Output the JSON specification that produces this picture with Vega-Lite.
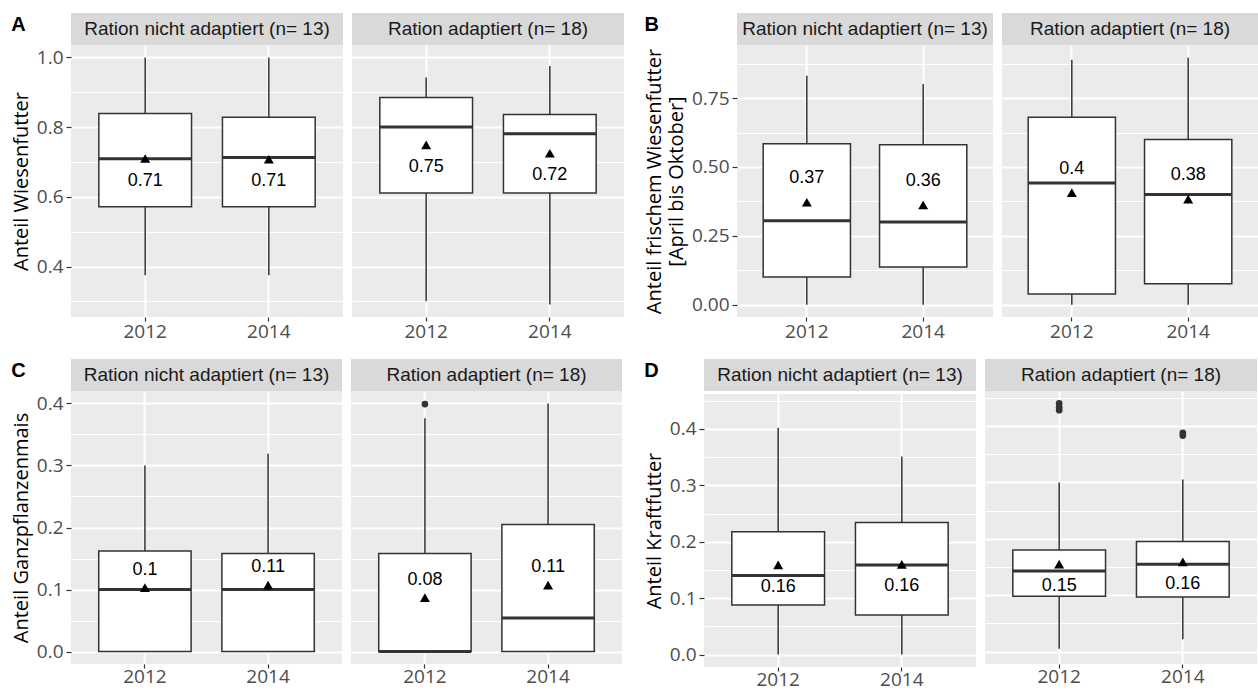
{
  "$schema": "https://vega.github.io/schema/vega-lite/v6.json",
  "background": "#FFFFFF",
  "padding": {"left": 11, "top": 13, "right": 0, "bottom": 4},
  "config": {
    "view": {"stroke": null},
    "axis": {"domain": false, "gridColor": "#FFFFFF", "tickColor": "#333333", "tickSize": 5, "tickWidth": 1.2, "labelColor": "#4D4D4D", "labelFont": "Open Sans", "labelFontSize": 19, "titleFont": "Open Sans", "titleFontSize": 20, "titleColor": "#000000", "titleFontWeight": "normal", "labelPadding": 3, "labelOverlap": false},
    "axisY": {"titlePadding": 5, "tickCount": 30},
    "axisX": {"grid": true, "gridWidth": 2, "labelAngle": 0, "labelPadding": 1, "tickSize": 4},
    "title": {"font": "Liberation Sans", "fontSize": 20, "fontWeight": "bold", "color": "#000000", "anchor": "start", "frame": "bounds", "baseline": "alphabetic", "offset": -22}
  },
  "datasets": {
    "box": [
      {"panel": "A", "grp": "n", "year": "2012", "lo": 0.375, "q1": 0.572, "med": 0.709, "q3": 0.839, "hi": 1.0, "mean": 0.71, "label": "0.71"},
      {"panel": "A", "grp": "n", "year": "2014", "lo": 0.375, "q1": 0.572, "med": 0.713, "q3": 0.828, "hi": 1.0, "mean": 0.708, "label": "0.71"},
      {"panel": "A", "grp": "a", "year": "2012", "lo": 0.301, "q1": 0.611, "med": 0.8, "q3": 0.885, "hi": 0.942, "mean": 0.749, "label": "0.75"},
      {"panel": "A", "grp": "a", "year": "2014", "lo": 0.291, "q1": 0.611, "med": 0.781, "q3": 0.836, "hi": 0.975, "mean": 0.725, "label": "0.72"},
      {"panel": "B", "grp": "n", "year": "2012", "lo": 0.0, "q1": 0.1, "med": 0.305, "q3": 0.584, "hi": 0.831, "mean": 0.372, "label": "0.37"},
      {"panel": "B", "grp": "n", "year": "2014", "lo": 0.0, "q1": 0.137, "med": 0.3, "q3": 0.581, "hi": 0.801, "mean": 0.362, "label": "0.36"},
      {"panel": "B", "grp": "a", "year": "2012", "lo": 0.0, "q1": 0.039, "med": 0.442, "q3": 0.681, "hi": 0.889, "mean": 0.407, "label": "0.4"},
      {"panel": "B", "grp": "a", "year": "2014", "lo": 0.0, "q1": 0.076, "med": 0.4, "q3": 0.6, "hi": 0.897, "mean": 0.383, "label": "0.38"},
      {"panel": "C", "grp": "n", "year": "2012", "lo": 0.0, "q1": 0.0, "med": 0.1, "q3": 0.162, "hi": 0.3, "mean": 0.103, "label": "0.1"},
      {"panel": "C", "grp": "n", "year": "2014", "lo": 0.0, "q1": 0.0, "med": 0.1, "q3": 0.158, "hi": 0.319, "mean": 0.107, "label": "0.11"},
      {"panel": "C", "grp": "a", "year": "2012", "lo": 0.0, "q1": 0.0, "med": 0.0, "q3": 0.158, "hi": 0.376, "mean": 0.087, "label": "0.08"},
      {"panel": "C", "grp": "a", "year": "2014", "lo": 0.0, "q1": 0.0, "med": 0.054, "q3": 0.205, "hi": 0.4, "mean": 0.107, "label": "0.11"},
      {"panel": "D", "grp": "n", "year": "2012", "lo": 0.0, "q1": 0.088, "med": 0.14, "q3": 0.218, "hi": 0.402, "mean": 0.159, "label": "0.16"},
      {"panel": "D", "grp": "n", "year": "2014", "lo": 0.0, "q1": 0.07, "med": 0.159, "q3": 0.234, "hi": 0.351, "mean": 0.16, "label": "0.16"},
      {"panel": "D", "grp": "a", "year": "2012", "lo": 0.005, "q1": 0.098, "med": 0.143, "q3": 0.18, "hi": 0.3, "mean": 0.155, "label": "0.15"},
      {"panel": "D", "grp": "a", "year": "2014", "lo": 0.022, "q1": 0.097, "med": 0.155, "q3": 0.195, "hi": 0.305, "mean": 0.159, "label": "0.16"}
    ],
    "out": [
      {"panel": "C", "grp": "a", "year": "2012", "v": 0.399},
      {"panel": "D", "grp": "a", "year": "2012", "v": 0.428},
      {"panel": "D", "grp": "a", "year": "2012", "v": 0.433},
      {"panel": "D", "grp": "a", "year": "2012", "v": 0.44},
      {"panel": "D", "grp": "a", "year": "2014", "v": 0.383},
      {"panel": "D", "grp": "a", "year": "2014", "v": 0.388}
    ]
  },
  "spacing": 18,
  "vconcat": [
    {
      "spacing": 20,
      "hconcat": [
        {
          "title": {"text": "A"},
          "spacing": 9,
          "hconcat": [
            {"spacing": 0, "vconcat": [
              {"width": 272, "height": 32, "view": {"fill": "#D9D9D9", "stroke": null}, "data": {"values": [{}]}, "mark": {"type": "text", "text": "Ration nicht adaptiert (n= 13)", "font": "Liberation Sans", "fontSize": 19, "color": "#1A1A1A"}},
              {"width": 272, "height": 272, "view": {"fill": "#EBEBEB", "stroke": null},
               "data": {"name": "box"}, "transform": [{"filter": "datum.panel == 'A' && datum.grp == 'n'"}],
               "encoding": {"x": {"field": "year", "type": "nominal", "title": null, "scale": {"paddingInner": 0.25, "paddingOuter": 0.225}}},
               "layer": [
                 {"mark": {"type": "rule", "color": "#333333", "strokeWidth": 1.5}, "encoding": {"y": {"field": "lo", "type": "quantitative", "scale": {"domain": [0.2555, 1.0355], "nice": false, "zero": false}, "axis": {"title": "Anteil Wiesenfutter", "values": [0.3, 0.4, 0.5, 0.6, 0.7, 0.8, 0.9, 1.0], "format": ".1f", "labelExpr": "abs(datum.value*5-round(datum.value*5))<1e-6 ? datum.label : ''", "tickOpacity": {"condition": {"test": "abs(datum.value*5-round(datum.value*5))<1e-6", "value": 1}, "value": 0}, "gridWidth": {"condition": {"test": "abs(datum.value*5-round(datum.value*5))<1e-6", "value": 2}, "value": 1}}}, "y2": {"field": "hi"}}},
                 {"mark": {"type": "bar", "fill": "#FFFFFF", "stroke": "#333333", "strokeWidth": 1.5}, "encoding": {"y": {"field": "q1", "type": "quantitative"}, "y2": {"field": "q3"}}},
                 {"mark": {"type": "bar", "fill": null, "stroke": "#333333", "strokeWidth": 3}, "encoding": {"y": {"field": "med", "type": "quantitative"}, "y2": {"field": "med"}}},
                 {"mark": {"type": "point", "shape": "triangle-up", "filled": true, "color": "#000000", "size": 100, "opacity": 1}, "encoding": {"y": {"field": "mean", "type": "quantitative"}}},
                 {"mark": {"type": "text", "dy": 22, "font": "Liberation Sans", "fontSize": 18, "color": "#000000"}, "encoding": {"y": {"field": "mean", "type": "quantitative"}, "text": {"field": "label"}}}
               ]}
            ]},
            {"spacing": 0, "vconcat": [
              {"width": 272, "height": 32, "view": {"fill": "#D9D9D9", "stroke": null}, "data": {"values": [{}]}, "mark": {"type": "text", "text": "Ration adaptiert (n= 18)", "font": "Liberation Sans", "fontSize": 19, "color": "#1A1A1A"}},
              {"width": 272, "height": 272, "view": {"fill": "#EBEBEB", "stroke": null},
               "data": {"name": "box"}, "transform": [{"filter": "datum.panel == 'A' && datum.grp == 'a'"}],
               "encoding": {"x": {"field": "year", "type": "nominal", "title": null, "scale": {"paddingInner": 0.25, "paddingOuter": 0.225}}},
               "layer": [
                 {"mark": {"type": "rule", "color": "#333333", "strokeWidth": 1.5}, "encoding": {"y": {"field": "lo", "type": "quantitative", "scale": {"domain": [0.2555, 1.0355], "nice": false, "zero": false}, "axis": {"title": null, "labels": false, "ticks": false, "values": [0.3, 0.4, 0.5, 0.6, 0.7, 0.8, 0.9, 1.0], "gridWidth": {"condition": {"test": "abs(datum.value*5-round(datum.value*5))<1e-6", "value": 2}, "value": 1}}}, "y2": {"field": "hi"}}},
                 {"mark": {"type": "bar", "fill": "#FFFFFF", "stroke": "#333333", "strokeWidth": 1.5}, "encoding": {"y": {"field": "q1", "type": "quantitative"}, "y2": {"field": "q3"}}},
                 {"mark": {"type": "bar", "fill": null, "stroke": "#333333", "strokeWidth": 3}, "encoding": {"y": {"field": "med", "type": "quantitative"}, "y2": {"field": "med"}}},
                 {"mark": {"type": "point", "shape": "triangle-up", "filled": true, "color": "#000000", "size": 100, "opacity": 1}, "encoding": {"y": {"field": "mean", "type": "quantitative"}}},
                 {"mark": {"type": "text", "dy": 22, "font": "Liberation Sans", "fontSize": 18, "color": "#000000"}, "encoding": {"y": {"field": "mean", "type": "quantitative"}, "text": {"field": "label"}}}
               ]}
            ]}
          ]
        },
        {
          "title": {"text": "B"},
          "spacing": 9,
          "hconcat": [
            {"spacing": 0, "vconcat": [
              {"width": 256, "height": 32, "view": {"fill": "#D9D9D9", "stroke": null}, "data": {"values": [{}]}, "mark": {"type": "text", "text": "Ration nicht adaptiert (n= 13)", "font": "Liberation Sans", "fontSize": 19, "color": "#1A1A1A"}},
              {"width": 256, "height": 272, "view": {"fill": "#EBEBEB", "stroke": null},
               "data": {"name": "box"}, "transform": [{"filter": "datum.panel == 'B' && datum.grp == 'n'"}],
               "encoding": {"x": {"field": "year", "type": "nominal", "title": null, "scale": {"paddingInner": 0.25, "paddingOuter": 0.225}}},
               "layer": [
                 {"mark": {"type": "rule", "color": "#333333", "strokeWidth": 1.5}, "encoding": {"y": {"field": "lo", "type": "quantitative", "scale": {"domain": [-0.0449, 0.943], "nice": false, "zero": false}, "axis": {"title": ["Anteil frischem Wiesenfutter", "[April bis Oktober]"], "values": [0, 0.125, 0.25, 0.375, 0.5, 0.625, 0.75, 0.875], "format": ".2f", "labelExpr": "abs(datum.value*4-round(datum.value*4))<1e-6 ? datum.label : ''", "tickOpacity": {"condition": {"test": "abs(datum.value*4-round(datum.value*4))<1e-6", "value": 1}, "value": 0}, "gridWidth": {"condition": {"test": "abs(datum.value*4-round(datum.value*4))<1e-6", "value": 2}, "value": 1}}}, "y2": {"field": "hi"}}},
                 {"mark": {"type": "bar", "fill": "#FFFFFF", "stroke": "#333333", "strokeWidth": 1.5}, "encoding": {"y": {"field": "q1", "type": "quantitative"}, "y2": {"field": "q3"}}},
                 {"mark": {"type": "bar", "fill": null, "stroke": "#333333", "strokeWidth": 3}, "encoding": {"y": {"field": "med", "type": "quantitative"}, "y2": {"field": "med"}}},
                 {"mark": {"type": "point", "shape": "triangle-up", "filled": true, "color": "#000000", "size": 100, "opacity": 1}, "encoding": {"y": {"field": "mean", "type": "quantitative"}}},
                 {"mark": {"type": "text", "dy": -24, "font": "Liberation Sans", "fontSize": 18, "color": "#000000"}, "encoding": {"y": {"field": "mean", "type": "quantitative"}, "text": {"field": "label"}}}
               ]}
            ]},
            {"spacing": 0, "vconcat": [
              {"width": 256, "height": 32, "view": {"fill": "#D9D9D9", "stroke": null}, "data": {"values": [{}]}, "mark": {"type": "text", "text": "Ration adaptiert (n= 18)", "font": "Liberation Sans", "fontSize": 19, "color": "#1A1A1A"}},
              {"width": 256, "height": 272, "view": {"fill": "#EBEBEB", "stroke": null},
               "data": {"name": "box"}, "transform": [{"filter": "datum.panel == 'B' && datum.grp == 'a'"}],
               "encoding": {"x": {"field": "year", "type": "nominal", "title": null, "scale": {"paddingInner": 0.25, "paddingOuter": 0.225}}},
               "layer": [
                 {"mark": {"type": "rule", "color": "#333333", "strokeWidth": 1.5}, "encoding": {"y": {"field": "lo", "type": "quantitative", "scale": {"domain": [-0.0449, 0.943], "nice": false, "zero": false}, "axis": {"title": null, "labels": false, "ticks": false, "values": [0, 0.125, 0.25, 0.375, 0.5, 0.625, 0.75, 0.875], "gridWidth": {"condition": {"test": "abs(datum.value*4-round(datum.value*4))<1e-6", "value": 2}, "value": 1}}}, "y2": {"field": "hi"}}},
                 {"mark": {"type": "bar", "fill": "#FFFFFF", "stroke": "#333333", "strokeWidth": 1.5}, "encoding": {"y": {"field": "q1", "type": "quantitative"}, "y2": {"field": "q3"}}},
                 {"mark": {"type": "bar", "fill": null, "stroke": "#333333", "strokeWidth": 3}, "encoding": {"y": {"field": "med", "type": "quantitative"}, "y2": {"field": "med"}}},
                 {"mark": {"type": "point", "shape": "triangle-up", "filled": true, "color": "#000000", "size": 100, "opacity": 1}, "encoding": {"y": {"field": "mean", "type": "quantitative"}}},
                 {"mark": {"type": "text", "dy": -24, "font": "Liberation Sans", "fontSize": 18, "color": "#000000"}, "encoding": {"y": {"field": "mean", "type": "quantitative"}, "text": {"field": "label"}}}
               ]}
            ]}
          ]
        }
      ]
    },
    {
      "spacing": 22,
      "hconcat": [
        {
          "title": {"text": "C"},
          "spacing": 9,
          "hconcat": [
            {"spacing": 0, "vconcat": [
              {"width": 271, "height": 32, "view": {"fill": "#D9D9D9", "stroke": null}, "data": {"values": [{}]}, "mark": {"type": "text", "text": "Ration nicht adaptiert (n= 13)", "font": "Liberation Sans", "fontSize": 19, "color": "#1A1A1A"}},
              {"width": 271, "height": 273, "view": {"fill": "#EBEBEB", "stroke": null},
               "data": {"name": "box"}, "transform": [{"filter": "datum.panel == 'C' && datum.grp == 'n'"}],
               "encoding": {"x": {"field": "year", "type": "nominal", "title": null, "scale": {"paddingInner": 0.25, "paddingOuter": 0.225}, "axis": {"labelPadding": -1}}},
               "layer": [
                 {"mark": {"type": "rule", "color": "#333333", "strokeWidth": 1.5}, "encoding": {"y": {"field": "lo", "type": "quantitative", "scale": {"domain": [-0.02, 0.42], "nice": false, "zero": false}, "axis": {"title": "Anteil Ganzpflanzenmais", "values": [0, 0.05, 0.1, 0.15, 0.2, 0.25, 0.3, 0.35, 0.4], "format": ".1f", "labelExpr": "abs(datum.value*10-round(datum.value*10))<1e-6 ? datum.label : ''", "tickOpacity": {"condition": {"test": "abs(datum.value*10-round(datum.value*10))<1e-6", "value": 1}, "value": 0}, "gridWidth": {"condition": {"test": "abs(datum.value*10-round(datum.value*10))<1e-6", "value": 2}, "value": 1}}}, "y2": {"field": "hi"}}},
                 {"mark": {"type": "bar", "fill": "#FFFFFF", "stroke": "#333333", "strokeWidth": 1.5}, "encoding": {"y": {"field": "q1", "type": "quantitative"}, "y2": {"field": "q3"}}},
                 {"mark": {"type": "bar", "fill": null, "stroke": "#333333", "strokeWidth": 3}, "encoding": {"y": {"field": "med", "type": "quantitative"}, "y2": {"field": "med"}}},
                 {"mark": {"type": "point", "shape": "triangle-up", "filled": true, "color": "#000000", "size": 100, "opacity": 1}, "encoding": {"y": {"field": "mean", "type": "quantitative"}}},
                 {"mark": {"type": "text", "dy": -18, "font": "Liberation Sans", "fontSize": 18, "color": "#000000"}, "encoding": {"y": {"field": "mean", "type": "quantitative"}, "text": {"field": "label"}}}
               ]}
            ]},
            {"spacing": 0, "vconcat": [
              {"width": 271, "height": 32, "view": {"fill": "#D9D9D9", "stroke": null}, "data": {"values": [{}]}, "mark": {"type": "text", "text": "Ration adaptiert (n= 18)", "font": "Liberation Sans", "fontSize": 19, "color": "#1A1A1A"}},
              {"width": 271, "height": 273, "view": {"fill": "#EBEBEB", "stroke": null},
               "data": {"name": "box"}, "transform": [{"filter": "datum.panel == 'C' && datum.grp == 'a'"}],
               "encoding": {"x": {"field": "year", "type": "nominal", "title": null, "scale": {"paddingInner": 0.25, "paddingOuter": 0.225}, "axis": {"labelPadding": -1}}},
               "layer": [
                 {"mark": {"type": "rule", "color": "#333333", "strokeWidth": 1.5}, "encoding": {"y": {"field": "lo", "type": "quantitative", "scale": {"domain": [-0.02, 0.42], "nice": false, "zero": false}, "axis": {"title": null, "labels": false, "ticks": false, "values": [0, 0.05, 0.1, 0.15, 0.2, 0.25, 0.3, 0.35, 0.4], "gridWidth": {"condition": {"test": "abs(datum.value*10-round(datum.value*10))<1e-6", "value": 2}, "value": 1}}}, "y2": {"field": "hi"}}},
                 {"mark": {"type": "bar", "fill": "#FFFFFF", "stroke": "#333333", "strokeWidth": 1.5}, "encoding": {"y": {"field": "q1", "type": "quantitative"}, "y2": {"field": "q3"}}},
                 {"mark": {"type": "bar", "fill": null, "stroke": "#333333", "strokeWidth": 3}, "encoding": {"y": {"field": "med", "type": "quantitative"}, "y2": {"field": "med"}}},
                 {"mark": {"type": "point", "shape": "triangle-up", "filled": true, "color": "#000000", "size": 100, "opacity": 1}, "encoding": {"y": {"field": "mean", "type": "quantitative"}}},
                 {"mark": {"type": "text", "dy": -18, "font": "Liberation Sans", "fontSize": 18, "color": "#000000"}, "encoding": {"y": {"field": "mean", "type": "quantitative"}, "text": {"field": "label"}}},
                 {"data": {"name": "out"}, "transform": [{"filter": "datum.panel == 'C' && datum.grp == 'a'"}], "mark": {"type": "circle", "color": "#333333", "size": 45, "opacity": 1}, "encoding": {"y": {"field": "v", "type": "quantitative"}}}
               ]}
            ]}
          ]
        },
        {
          "title": {"text": "D"},
          "spacing": 9,
          "hconcat": [
            {"spacing": 0, "vconcat": [
              {"width": 272, "height": 32, "view": {"fill": "#D9D9D9", "stroke": null}, "data": {"values": [{}]}, "mark": {"type": "text", "text": "Ration nicht adaptiert (n= 13)", "font": "Liberation Sans", "fontSize": 19, "color": "#1A1A1A"}},
              {"width": 272, "height": 273, "view": {"fill": "#EBEBEB", "stroke": null},
               "data": {"name": "box"}, "transform": [{"filter": "datum.panel == 'D' && datum.grp == 'n'"}],
               "encoding": {"x": {"field": "year", "type": "nominal", "title": null, "scale": {"paddingInner": 0.25, "paddingOuter": 0.225}, "axis": {"labelPadding": -1}}},
               "layer": [
                 {"mark": {"type": "rule", "color": "#333333", "strokeWidth": 1.5}, "encoding": {"y": {"field": "lo", "type": "quantitative", "scale": {"domain": [-0.022, 0.462], "nice": false, "zero": false}, "axis": {"title": "Anteil Kraftfutter", "values": [0, 0.05, 0.1, 0.15, 0.2, 0.25, 0.3, 0.35, 0.4, 0.45], "format": ".1f", "labelExpr": "abs(datum.value*10-round(datum.value*10))<1e-6 ? datum.label : ''", "tickOpacity": {"condition": {"test": "abs(datum.value*10-round(datum.value*10))<1e-6", "value": 1}, "value": 0}, "gridWidth": {"condition": {"test": "abs(datum.value*10-round(datum.value*10))<1e-6", "value": 2}, "value": 1}}}, "y2": {"field": "hi"}}},
                 {"mark": {"type": "bar", "fill": "#FFFFFF", "stroke": "#333333", "strokeWidth": 1.5}, "encoding": {"y": {"field": "q1", "type": "quantitative"}, "y2": {"field": "q3"}}},
                 {"mark": {"type": "bar", "fill": null, "stroke": "#333333", "strokeWidth": 3}, "encoding": {"y": {"field": "med", "type": "quantitative"}, "y2": {"field": "med"}}},
                 {"mark": {"type": "point", "shape": "triangle-up", "filled": true, "color": "#000000", "size": 100, "opacity": 1}, "encoding": {"y": {"field": "mean", "type": "quantitative"}}},
                 {"mark": {"type": "text", "dy": 22, "font": "Liberation Sans", "fontSize": 18, "color": "#000000"}, "encoding": {"y": {"field": "mean", "type": "quantitative"}, "text": {"field": "label"}}}
               ]}
            ]},
            {"spacing": 0, "vconcat": [
              {"width": 272, "height": 32, "view": {"fill": "#D9D9D9", "stroke": null}, "data": {"values": [{}]}, "mark": {"type": "text", "text": "Ration adaptiert (n= 18)", "font": "Liberation Sans", "fontSize": 19, "color": "#1A1A1A"}},
              {"width": 272, "height": 273, "view": {"fill": "#EBEBEB", "stroke": null},
               "data": {"name": "box"}, "transform": [{"filter": "datum.panel == 'D' && datum.grp == 'a'"}],
               "encoding": {"x": {"field": "year", "type": "nominal", "title": null, "scale": {"paddingInner": 0.25, "paddingOuter": 0.225}, "axis": {"labelPadding": -1}}},
               "layer": [
                 {"mark": {"type": "rule", "color": "#333333", "strokeWidth": 1.5}, "encoding": {"y": {"field": "lo", "type": "quantitative", "scale": {"domain": [-0.022, 0.462], "nice": false, "zero": false}, "axis": {"title": null, "labels": false, "ticks": false, "values": [0, 0.05, 0.1, 0.15, 0.2, 0.25, 0.3, 0.35, 0.4, 0.45], "gridWidth": {"condition": {"test": "abs(datum.value*10-round(datum.value*10))<1e-6", "value": 2}, "value": 1}}}, "y2": {"field": "hi"}}},
                 {"mark": {"type": "bar", "fill": "#FFFFFF", "stroke": "#333333", "strokeWidth": 1.5}, "encoding": {"y": {"field": "q1", "type": "quantitative"}, "y2": {"field": "q3"}}},
                 {"mark": {"type": "bar", "fill": null, "stroke": "#333333", "strokeWidth": 3}, "encoding": {"y": {"field": "med", "type": "quantitative"}, "y2": {"field": "med"}}},
                 {"mark": {"type": "point", "shape": "triangle-up", "filled": true, "color": "#000000", "size": 100, "opacity": 1}, "encoding": {"y": {"field": "mean", "type": "quantitative"}}},
                 {"mark": {"type": "text", "dy": 22, "font": "Liberation Sans", "fontSize": 18, "color": "#000000"}, "encoding": {"y": {"field": "mean", "type": "quantitative"}, "text": {"field": "label"}}},
                 {"data": {"name": "out"}, "transform": [{"filter": "datum.panel == 'D' && datum.grp == 'a'"}], "mark": {"type": "circle", "color": "#333333", "size": 45, "opacity": 1}, "encoding": {"y": {"field": "v", "type": "quantitative"}}}
               ]}
            ]}
          ]
        }
      ]
    }
  ]
}
